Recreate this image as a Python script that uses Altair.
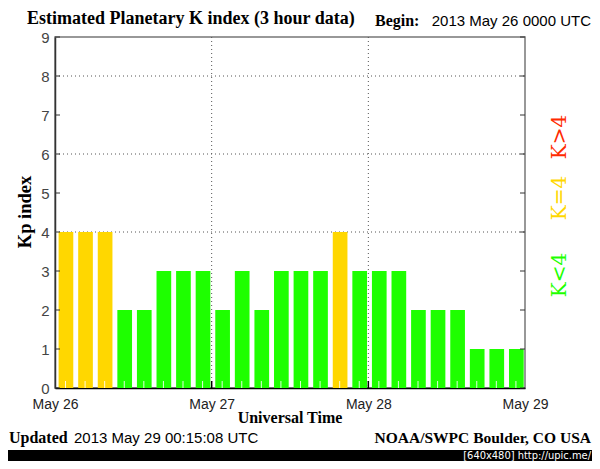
import altair as alt
import pandas as pd

# ---- data ----
start_hours = [0, 3, 6, 9, 12, 15, 18, 21, 24, 27, 30, 33, 36, 39, 42, 45,
               48, 51, 54, 57, 60, 63, 66, 69]
kp_values = [4, 4, 4, 2, 2, 3, 3, 3, 2, 3, 2, 3, 3, 3, 4, 3, 3, 3, 2, 2, 2, 1, 1, 1]
day_ticks = [0, 24, 48, 72]
day_labels = ["May 26", "May 27", "May 28", "May 29"]
grid_days = [24, 48]
grid_k = [4, 6, 8]
k_ticks = [0, 1, 2, 3, 4, 5, 6, 7, 8, 9]
level_names = ["K<4", "K=4", "K>4"]
level_colors = ["#1eff00", "#ffd700", "#ff2a00"]

W, H = 470, 351
PAD = {"left": 47, "top": 29, "right": 67, "bottom": 73}   # canvas 584 x 453

def level(v):
    return "K<4" if v < 4 else ("K=4" if v == 4 else "K>4")

bars_df = pd.DataFrame({
    "start": start_hours,
    "end": [s + 3 for s in start_hours],
    "kp": kp_values,
    "level": [level(v) for v in kp_values],
})

xscale = alt.Scale(domain=[0, 72], nice=False, zero=False)
yscale = alt.Scale(domain=[0, 9], nice=False)

label_js = "[" + ",".join("'%s'" % s for s in day_labels) + "]"

xaxis = alt.Axis(values=day_ticks, labelExpr=label_js + "[round(datum.value/24)]",
                 ticks=False, grid=False, labelPadding=9, labelFontSize=14,
                 labelFont="Liberation Sans", labelColor="#222",
                 domainColor="black", domainWidth=1.5, title=None, labelFlush=False)
yaxis = alt.Axis(values=k_ticks, ticks=False, grid=False, labelPadding=6,
                 labelFontSize=15, labelFont="Liberation Sans",
                 labelColor="#444", domainColor="#333", domainWidth=1.5, title=None)

def X(field):
    return alt.X(field, scale=xscale, axis=xaxis)

def Y(field):
    return alt.Y(field, scale=yscale, axis=yaxis)

grid_h = alt.Chart(pd.DataFrame({"k": grid_k})).mark_rule(
    color="#555", strokeDash=[1, 3], strokeWidth=1
).encode(y=Y("k:Q"), x=alt.value(0), x2=alt.value(W))

grid_v = alt.Chart(pd.DataFrame({"d": grid_days})).mark_rule(
    color="#555", strokeDash=[1, 3], strokeWidth=1
).encode(x=X("d:Q"), y=alt.value(0), y2=alt.value(H))

grid_v_tick = alt.Chart(pd.DataFrame({"d": grid_days})).mark_rule(
    color="black", strokeWidth=1.5
).encode(x=X("d:Q"), y=alt.value(H - 7), y2=alt.value(H))

bars = alt.Chart(bars_df).mark_bar(xOffset=3.6, x2Offset=-1.3).encode(
    x=X("start:Q"),
    x2="end:Q",
    y=Y("kp:Q"),
    y2=alt.datum(0),
    color=alt.Color("level:N", scale=alt.Scale(domain=level_names, range=level_colors),
                    legend=None),
)

bar_ticks = alt.Chart(bars_df).mark_rule(xOffset=10.5, color="white", strokeWidth=1,
                                         opacity=0.85).encode(
    x=X("start:Q"), y=alt.value(H), y2=alt.value(H - 7))

k_df = pd.DataFrame({"k": k_ticks})
left_ticks = alt.Chart(k_df).mark_rule(color="#333", strokeWidth=1).encode(
    y=Y("k:Q"), x=alt.value(0), x2=alt.value(5))
right_ticks = alt.Chart(k_df).mark_rule(color="#333", strokeWidth=1).encode(
    y=Y("k:Q"), x=alt.value(W - 5), x2=alt.value(W))

one = pd.DataFrame({"a": [0]})

def txt(s, x, y, size, font="Liberation Serif", bold=False, color="black",
        align="left", angle=0):
    kw = dict(text=s, fontSize=size, font=font, color=color, align=align,
              baseline="middle", fontWeight="bold" if bold else "normal")
    if angle:
        kw["angle"] = angle
    return alt.Chart(one).mark_text(**kw).encode(x=alt.value(x), y=alt.value(y))

band = alt.Chart(one).mark_rect(color="black").encode(
    x=alt.value(-47), x2=alt.value(540), y=alt.value(413), y2=alt.value(430))

texts = [
    txt("Estimated Planetary K index (3 hour data)", -28, -18, 18, bold=True),
    txt("Begin:", 320, -16, 16, bold=True),
    txt("2013 May 26 0000 UTC", 536, -16, 15, font="Liberation Sans", align="right"),
    txt("Kp index", -30, 175, 18.5, bold=True, angle=270, align="center"),
    txt("Universal Time", 235, H + 30, 16, bold=True, align="center"),
    txt("Updated", -46, 401, 16, bold=True),
    txt("2013 May 29 00:15:08 UTC", 19, 401, 15, font="Liberation Sans"),
    txt("NOAA/SWPC Boulder, CO USA", 536, 401, 15.5, bold=True, align="right"),
    txt("[640x480] http://upic.me/", 536, 418.5, 11, font="DejaVu Sans Condensed",
        color="white", align="right"),
    txt(level_names[0], 505, 238, 20, font="DejaVu Serif", color=level_colors[0],
        align="center", angle=270),
    txt(level_names[1], 505, 161, 20, font="DejaVu Serif", color=level_colors[1],
        align="center", angle=270),
    txt(level_names[2], 505, 100, 20, font="DejaVu Serif", color=level_colors[2],
        align="center", angle=270),
]

chart = alt.layer(
    grid_h, grid_v, bars, bar_ticks, grid_v_tick, left_ticks, right_ticks,
    band, *texts
).properties(
    width=W, height=H,
    autosize=alt.AutoSizeParams(type="none"),
    padding=PAD,
    background="white",
).configure_view(stroke="#777", strokeWidth=1.5)

chart.save("out.html", embed_options={"renderer": "svg", "actions": False})
